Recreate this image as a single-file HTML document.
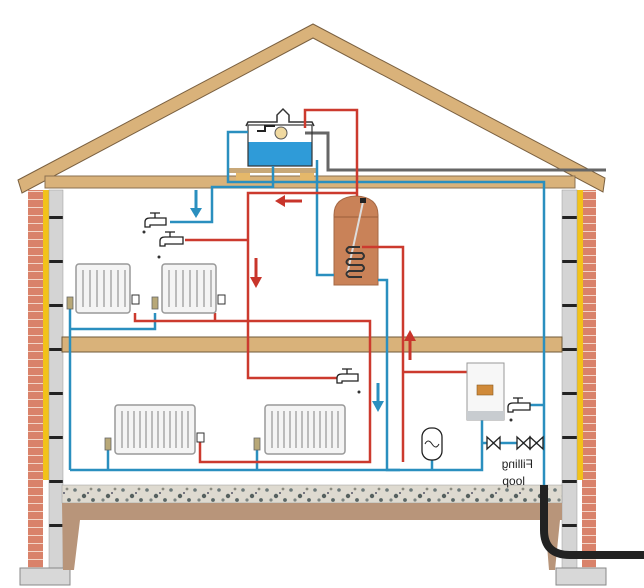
<!DOCTYPE html>
<html><head><style>html,body{margin:0;padding:0;background:#fff}svg{display:block}</style></head>
<body>
<svg width="644" height="588" viewBox="0 0 644 588" xmlns="http://www.w3.org/2000/svg" font-family="Liberation Sans, sans-serif">
<defs>
<pattern id="brick" width="14" height="8" patternUnits="userSpaceOnUse">
<rect width="14" height="8" fill="#d9826a"/><line x1="0" y1="7.5" x2="14" y2="7.5" stroke="#f3d6c8" stroke-width="1"/>
</pattern>
<pattern id="block" width="14" height="44" patternUnits="userSpaceOnUse">
<rect width="14" height="44" fill="#d4d4d4"/><rect y="40" width="14" height="3" fill="#222"/>
</pattern>
<pattern id="conc" width="24" height="18" patternUnits="userSpaceOnUse">
<rect width="24" height="18" fill="#dedad0"/>
<circle cx="3" cy="4" r="1.8" fill="#6d7a7a"/><circle cx="12" cy="10" r="2.2" fill="#55605e"/><circle cx="19" cy="3" r="1.4" fill="#8a8a80"/><circle cx="7" cy="14" r="1.6" fill="#7c8582"/><circle cx="21" cy="14" r="1.9" fill="#5a6766"/><circle cx="16" cy="7" r="1" fill="#556"/>
</pattern>
</defs>

<!-- roof -->
<path d="M18 180 L313 24 L605 178 L603 192 L313 38 L22 193 Z" fill="#d9b27a" stroke="#7a6040" stroke-width="1"/>
<polyline points="305,133 328,133 328,170 606,170" fill="none" stroke="#666" stroke-width="3"/>
<rect x="45" y="176" width="530" height="12" fill="#d9b27a" stroke="#8a7050" stroke-width="1"/>
<!-- walls -->
<rect x="28" y="190" width="15" height="380" fill="url(#brick)"/>
<rect x="43" y="190" width="6" height="290" fill="#f2c21a"/>
<rect x="49" y="190" width="14" height="380" fill="url(#block)" stroke="#999" stroke-width="0.5"/>
<rect x="20" y="568" width="50" height="17" fill="#d8d8d8" stroke="#888"/>
<rect x="582" y="190" width="14" height="380" fill="url(#brick)"/>
<rect x="577" y="190" width="6" height="290" fill="#f2c21a"/>
<rect x="562" y="190" width="15" height="380" fill="url(#block)" stroke="#999" stroke-width="0.5"/>
<rect x="556" y="568" width="50" height="17" fill="#d8d8d8" stroke="#888"/>
<rect x="62" y="337" width="500" height="15" fill="#d9b27a" stroke="#6f5a3a" stroke-width="1"/>
<rect x="62" y="485" width="500" height="18" fill="url(#conc)" stroke="#999" stroke-width="0.5"/>
<path d="M62 503 H562 V520 H560 L555 570 H549 L545 520 H80 L74 570 H63 Z" fill="#b8957a"/>

<!-- tank -->
<rect x="228" y="168" width="90" height="5" fill="#c8a878"/>
<rect x="236" y="173" width="14" height="9" fill="#e5b86a"/><rect x="300" y="173" width="14" height="9" fill="#e5b86a"/>
<rect x="248" y="142" width="64" height="24" fill="#2f9bd8"/>
<rect x="248" y="125" width="64" height="41" fill="none" stroke="#333" stroke-width="1.2"/>
<path d="M246 126 L248 122 H277 V115 L283 109 L289 115 V122 H312 L314 126" fill="none" stroke="#333" stroke-width="1.5"/>
<circle cx="281" cy="133" r="6" fill="#f0d9a0" stroke="#555"/>
<path d="M257 131 H265 V126 H275" fill="none" stroke="#222" stroke-width="2"/>

<!-- cylinder -->
<path d="M334 215 Q334 197 356 196 Q378 197 378 215 V285 H334 Z" fill="#c98258" stroke="#a56844"/>
<line x1="334" y1="217" x2="378" y2="217" stroke="#9a5d3a"/>
<line x1="347" y1="275" x2="363" y2="202" stroke="#ddd" stroke-width="2"/>
<rect x="360" y="198" width="6" height="5" fill="#222"/>
<path d="M360 247 H349 Q344 250 349 253 H362 Q366 256 362 259 H349 Q344 262 349 265 H362 Q366 268 362 271 H349 Q344 274 349 277 H362" fill="none" stroke="#333" stroke-width="2"/>

<g fill="none" stroke="#2a8fbf" stroke-width="2.5">
<polyline points="248,132 228,132 228,182 312,182 544,182 544,485"/>
<polyline points="273,166 273,187 212,187 212,222 170,222"/>
<polyline points="317,160 317,275 334,275"/>
<polyline points="378,280 387,280 387,470 482,470 482,420"/>
<polyline points="70,300 70,470"/>
<polyline points="70,329 155,329 155,313"/>
<polyline points="70,470 400,470"/>
<polyline points="108,470 108,450"/>
<polyline points="257,470 257,450"/>
<polyline points="432,470 432,460"/>
<polyline points="482,443 544,443"/>
<polyline points="530,405 544,405"/>
</g>
<g fill="none" stroke="#cc3a2e" stroke-width="2.5">
<polyline points="357,196 357,110 305,110 305,128"/>
<polyline points="357,193 248,193 248,378 345,378"/>
<polyline points="185,240 248,240"/>
<polyline points="135,313 135,321 370,321 370,462 200,462 200,440"/>
<polyline points="215,313 215,321"/>
<polyline points="362,247 403,247 403,462"/>
<polyline points="403,372 467,372"/>
</g>
<path d="M544 485 V530 Q544 555 570 555 H644" fill="none" stroke="#222" stroke-width="8"/>

<g>
<line x1="196" y1="190" x2="196" y2="210" stroke="#2a8fbf" stroke-width="3"/><path d="M190 208 L202 208 L196 218 Z" fill="#2a8fbf"/>
<line x1="378" y1="383" x2="378" y2="403" stroke="#2a8fbf" stroke-width="3"/><path d="M372 401 L384 401 L378 412 Z" fill="#2a8fbf"/>
<line x1="302" y1="201" x2="284" y2="201" stroke="#c8352b" stroke-width="3"/><path d="M285 195 L285 207 L275 201 Z" fill="#c8352b"/>
<line x1="256" y1="258" x2="256" y2="278" stroke="#c8352b" stroke-width="3"/><path d="M250 277 L262 277 L256 288 Z" fill="#c8352b"/>
<line x1="410" y1="360" x2="410" y2="340" stroke="#c8352b" stroke-width="3"/><path d="M404 341 L416 341 L410 330 Z" fill="#c8352b"/>
</g>

<g fill="#f4f4f4" stroke="#999" stroke-width="1.5">
<rect x="76" y="264" width="54" height="49" rx="3"/>
<rect x="162" y="264" width="54" height="49" rx="3"/>
<rect x="115" y="405" width="80" height="49" rx="3"/>
<rect x="265" y="405" width="80" height="49" rx="3"/>
</g>
<g stroke="#bbb" stroke-width="2">
<path d="M83 270v37M90 270v37M97 270v37M104 270v37M111 270v37M118 270v37M125 270v37"/>
<path d="M169 270v37M176 270v37M183 270v37M190 270v37M197 270v37M204 270v37M211 270v37"/>
<path d="M122 411v37M128 411v37M134 411v37M140 411v37M146 411v37M152 411v37M158 411v37M164 411v37M170 411v37M176 411v37M182 411v37M188 411v37"/>
<path d="M272 411v37M278 411v37M284 411v37M290 411v37M296 411v37M302 411v37M308 411v37M314 411v37M320 411v37M326 411v37M332 411v37M338 411v37"/>
</g>
<g fill="#b8a878" stroke="#666" stroke-width="0.8">
<rect x="67" y="297" width="6" height="12"/><rect x="152" y="297" width="6" height="12"/>
<rect x="105" y="438" width="6" height="12"/><rect x="254" y="438" width="6" height="12"/>
</g>
<g fill="#fff" stroke="#333" stroke-width="1">
<rect x="132" y="295" width="7" height="9"/><rect x="218" y="295" width="7" height="9"/>
<rect x="197" y="433" width="7" height="9"/>
</g>

<g fill="#fff" stroke="#222" stroke-width="1.3">
<path d="M145 227 V222 Q145 218 150 218 H166 V225 H150 V227 Z"/><path d="M155 218 V213 M150 213 H160"/>
<path d="M160 246 V241 Q160 237 165 237 H183 V244 H165 V246 Z"/><path d="M170 237 V232 M165 232 H175"/>
<path d="M337 383 V378 Q337 374 342 374 H358 V381 H342 V383 Z"/><path d="M347 374 V369 M342 369 H352"/>
<path d="M508 412 V407 Q508 403 513 403 H530 V410 H513 V412 Z"/><path d="M518 403 V398 M513 398 H523"/>
</g>
<g fill="#333"><circle cx="144" cy="232" r="1.5"/><circle cx="159" cy="257" r="1.5"/><circle cx="359" cy="392" r="1.5"/><circle cx="511" cy="420" r="1.5"/></g>

<rect x="467" y="363" width="37" height="57" fill="#f7f7f7" stroke="#999"/>
<rect x="467" y="411" width="37" height="9" fill="#c8ccd0"/>
<rect x="477" y="385" width="16" height="10" fill="#d08a3a" stroke="#8a5a20" stroke-width="0.6"/>
<rect x="422" y="428" width="20" height="32" rx="9" fill="#fff" stroke="#222" stroke-width="1.3"/>
<path d="M425 444 Q428 438 432 444 Q436 450 439 444" fill="none" stroke="#222"/>
<g fill="#fff" stroke="#222" stroke-width="1.3">
<path d="M487 437 L500 449 V437 L487 449 Z"/>
<path d="M517 437 L530 449 V437 L517 449 Z"/>
<path d="M530 437 L543 449 V437 L530 449 Z"/>
</g>
<g transform="translate(1030,0) scale(-1,1)" font-size="12" fill="#222">
<text x="497" y="468">Filling</text>
<text x="505" y="485">loop</text>
</g>
</svg>
</body></html>
